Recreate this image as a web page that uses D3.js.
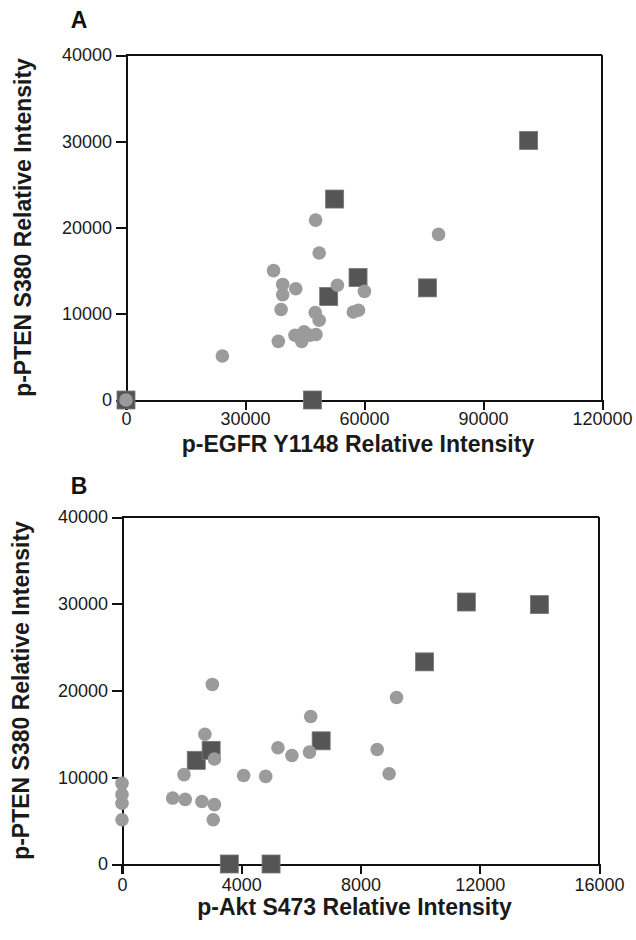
<html lang="en">
<head>
<meta charset="utf-8">
<title>p-PTEN scatter</title>
<style>
  body { margin: 0; background: white; font-family: "Liberation Sans", Arial, Helvetica, sans-serif; }
  svg { display: block; background: white; }
  .axis path, .axis line { stroke: #111; stroke-width: 2; fill: none; shape-rendering: crispEdges; }
  .axis text { font-size: 18px; fill: #1a1a1a; font-family: "Liberation Sans", Arial, sans-serif; }
  .title { font-size: 23px; font-weight: bold; fill: #1a1a1a; }
  .panel { font-size: 23px; font-weight: bold; fill: #111; }
</style>
</head>
<body>
<script src="https://cdnjs.cloudflare.com/ajax/libs/d3/7.8.5/d3.min.js"></script>
<script>
// panel A: p-EGFR Y1148 vs p-PTEN S380
var aXTicks = [0, 30000, 60000, 90000, 120000];
var aYTicks = [0, 10000, 20000, 30000, 40000];
var aSquares = [
  [0, 0], [47000, 0], [51100, 12000], [52600, 23300], [58500, 14200], [76000, 13000], [101500, 30100]
];
var aCircles = [
  [0, 0], [24300, 5100], [37200, 15000], [38400, 6800], [39100, 10500], [39500, 12200], [39500, 13400],
  [42600, 7500], [42800, 12900], [44300, 6800], [44900, 7900], [46400, 7500], [47900, 7600],
  [47700, 10150], [48700, 9250], [47800, 20850], [48700, 17050], [53300, 13300], [57300, 10200],
  [58600, 10400], [60100, 12600], [78800, 19200]
];

// panel B: p-Akt S473 vs p-PTEN S380
var bXTicks = [0, 4000, 8000, 12000, 16000];
var bYTicks = [0, 10000, 20000, 30000, 40000];
var bSquares = [
  [3600, 0], [5000, 0], [2490, 11950], [2990, 13100], [6680, 14200], [10150, 23300], [11550, 30200], [14000, 29900]
];
var bCircles = [
  [0, 9300], [0, 8000], [0, 7000], [0, 5100], [1700, 7600], [2120, 7450], [2080, 10300],
  [2680, 7200], [2780, 14950], [3030, 20700], [3100, 12100], [3100, 6850], [3060, 5100],
  [4080, 10200], [4820, 10100], [5230, 13400], [5700, 12500], [6290, 12900], [6330, 17000],
  [8560, 13200], [8960, 10400], [9210, 19200]
];

var svg = d3.select("body").append("svg")
  .attr("width", 636)
  .attr("height", 940);

function drawPanel(p) {
  var x = d3.scaleLinear().domain([0, p.xTicks[p.xTicks.length - 1]]).range([p.left, p.right]);
  var y = d3.scaleLinear().domain([0, p.yTicks[p.yTicks.length - 1]]).range([p.bottom, p.top]);

  var g = svg.append("g");

  // box: top and right lines
  g.append("line")
    .attr("x1", p.left).attr("x2", p.right).attr("y1", p.top).attr("y2", p.top)
    .attr("stroke", "#111").attr("stroke-width", 2).attr("shape-rendering", "crispEdges");
  g.append("line")
    .attr("x1", p.right).attr("x2", p.right).attr("y1", p.top).attr("y2", p.bottom)
    .attr("stroke", "#111").attr("stroke-width", 2).attr("shape-rendering", "crispEdges");

  g.append("g").attr("class", "axis")
    .attr("transform", "translate(0," + p.bottom + ")")
    .call(d3.axisBottom(x).tickValues(p.xTicks).tickSize(10).tickSizeOuter(0).tickPadding(p.xPad).tickFormat(d3.format("d")));

  g.append("g").attr("class", "axis")
    .attr("transform", "translate(" + p.left + ",0)")
    .call(d3.axisLeft(y).tickValues(p.yTicks).tickSize(10).tickSizeOuter(0).tickPadding(4).tickFormat(d3.format("d")));

  // y axis continues below the x axis as the tick at 0
  g.append("line")
    .attr("x1", p.left).attr("x2", p.left).attr("y1", p.bottom).attr("y2", p.bottom + 10)
    .attr("stroke", "#111").attr("stroke-width", 2);

  var s = 18;
  g.selectAll("rect.sq").data(p.squares).enter().append("rect")
    .attr("class", "sq")
    .attr("x", function(d) { return x(d[0]) - s / 2; })
    .attr("y", function(d) { return y(d[1]) - s / 2; })
    .attr("width", s).attr("height", s)
    .attr("fill", "#555555")
    .attr("stroke", "#777").attr("stroke-width", 0.8);

  g.selectAll("circle").data(p.circles).enter().append("circle")
    .attr("cx", function(d) { return x(d[0]); })
    .attr("cy", function(d) { return y(d[1]); })
    .attr("r", 6.8)
    .attr("fill", "#9b9b9b");

  g.append("text").attr("class", "title")
    .attr("x", (p.left + p.right) / 2 - 6).attr("y", p.xTitleY)
    .attr("text-anchor", "middle")
    .text(p.xTitle);

  g.append("text").attr("class", "title")
    .attr("transform", "translate(" + p.yTitleX + "," + (p.top + p.bottom) / 2 + ") rotate(-90)")
    .attr("text-anchor", "middle")
    .text("p-PTEN S380 Relative Intensity");

  g.append("text").attr("class", "panel")
    .attr("x", p.labelX).attr("y", p.labelY)
    .attr("text-anchor", "middle")
    .text(p.label);
}

drawPanel({
  label: "A", labelX: 79, labelY: 28,
  left: 126, right: 602, top: 55, bottom: 400,
  xTicks: aXTicks, yTicks: aYTicks, xPad: 2,
  squares: aSquares, circles: aCircles,
  xTitle: "p-EGFR Y1148 Relative Intensity", xTitleY: 452, yTitleX: 31
});

drawPanel({
  label: "B", labelX: 79, labelY: 494,
  left: 122, right: 599, top: 517, bottom: 864,
  xTicks: bXTicks, yTicks: bYTicks, xPad: 4,
  squares: bSquares, circles: bCircles,
  xTitle: "p-Akt S473 Relative Intensity", xTitleY: 915, yTitleX: 29
});
</script>
</body>
</html>
